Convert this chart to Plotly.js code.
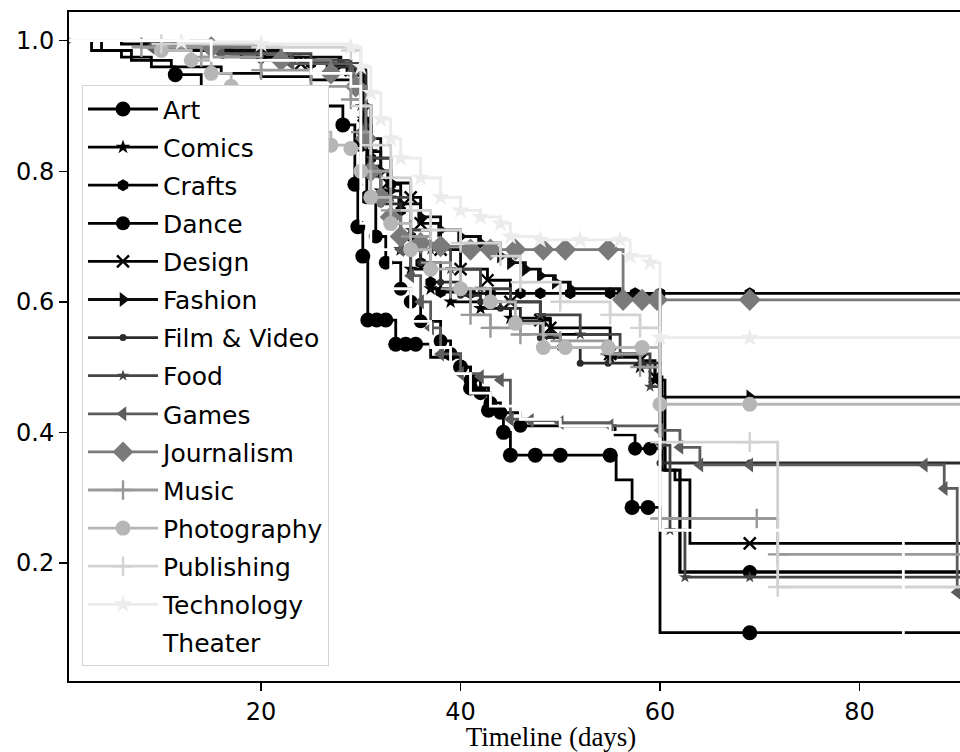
<!DOCTYPE html>
<html>
<head>
<meta charset="utf-8">
<script src="https://cdn.plot.ly/plotly-3.0.1.min.js"></script>
<style>html,body{margin:0;padding:0;background:#fff;overflow:hidden;width:960px;height:752px}</style>
</head>
<body>
<div id="chart" style="width:1040px;height:752px"></div>
<script>
// ---- data ----
const categories = ["Art","Comics","Crafts","Dance","Design","Fashion","Film & Video","Food","Games","Journalism","Music","Photography","Publishing","Technology","Theater"];

const days_Art  = [0,4,6,9,11.4,14,17,22,25,28.2,29.4,29.7,30.2,30.7,31.6,32.5,33.5,34.5,35.5,37,40,41,42.8,44.3,45,47.5,50,55,55.6,57.2,58.8,60,69,100];
const surv_Art  = [1,0.985,0.975,0.96,0.948,0.93,0.92,0.918,0.9,0.871,0.78,0.715,0.67,0.572,0.572,0.572,0.535,0.535,0.535,0.515,0.5,0.468,0.434,0.40,0.365,0.365,0.365,0.365,0.327,0.285,0.285,0.093,0.093,0.093];
const marks_Art = [11.4,28.2,29.4,29.7,30.2,30.7,31.6,32.5,33.5,34.5,35.5,40,41,42.8,44.3,45,47.5,50,55,57.2,58.8,69];

const days_Comics = [0,10,16,22,27,29.8,30.3,31,32,33,34,35,37,39,42,45,49,55,58,59.5,60.5,62,69,100];
const surv_Comics = [1,0.99,0.98,0.97,0.962,0.955,0.88,0.83,0.77,0.72,0.68,0.65,0.62,0.6,0.59,0.575,0.55,0.515,0.5,0.48,0.342,0.186,0.186,0.186];
const marks_Comics = [22,27,29.8,30.3,31,32,33,34,35,37,39,42,45,49,55,58,59.5,69];

const days_Crafts = [0,10,17,20,22,23,25,27,29,30,30.5,31,33,34,35,36,37,38,41,43,46,48,51,55,57.5,60,69,100];
const surv_Crafts = [1,0.99,0.98,0.975,0.97,0.97,0.965,0.96,0.955,0.93,0.87,0.82,0.78,0.74,0.70,0.66,0.63,0.615,0.613,0.613,0.613,0.613,0.613,0.613,0.613,0.613,0.613,0.613];
const marks_Crafts = [20,22,23,25,27,29,30,30.5,31,33,34,35,36,37,38,41,43,46,48,51,55,57.5,60,69];

const days_Dance = [0,3,7,11,16,20,25,29.3,30,30.6,31.5,32.5,34,35,36,38,39,40,41,42,43,44,46,50,55.5,57.5,59,60.5,62,69,100];
const surv_Dance = [1,0.985,0.97,0.96,0.95,0.945,0.94,0.93,0.84,0.76,0.70,0.66,0.62,0.60,0.57,0.54,0.52,0.50,0.48,0.46,0.445,0.43,0.41,0.41,0.396,0.375,0.375,0.342,0.186,0.186,0.186];
const marks_Dance = [30,30.6,31.5,32.5,34,35,36,38,39,40,41,42,43,44,46,57.5,59,69];

const days_Design = [0,6,12,18,24,29,30.3,31,32.7,35,36,38,40,42.7,45,48,49,55,58,59.5,60.2,61.5,63,69,100];
const surv_Design = [1,0.995,0.985,0.975,0.965,0.955,0.87,0.80,0.782,0.76,0.72,0.68,0.65,0.633,0.60,0.572,0.56,0.52,0.51,0.485,0.342,0.327,0.23,0.23,0.23];
const marks_Design = [24,29,30.3,31,32.7,35,36,38,40,42.7,45,48,49,55,58,59.5,69];

const days_Fashion = [0,8,15,22,28,30,30.5,31,32,33,34,36,38,40,42,44,45,46.5,48,49.5,51,56,60,69,100];
const surv_Fashion = [1,0.995,0.985,0.975,0.965,0.955,0.90,0.85,0.80,0.77,0.75,0.73,0.71,0.70,0.69,0.67,0.66,0.65,0.64,0.63,0.62,0.61,0.454,0.454,0.454];
const marks_Fashion = [22,28,30,30.5,31,32,33,34,36,38,40,42,44,45,46.5,48,49.5,51,56,69];

const days_Film = [0,10,20,27,29.5,30.5,31,32,34,36,38,40,42,44,46,48,50,52,54.8,58.2,60,69,100];
const surv_Film = [1,0.99,0.97,0.96,0.95,0.87,0.80,0.75,0.70,0.66,0.63,0.61,0.60,0.59,0.57,0.545,0.53,0.506,0.506,0.506,0.353,0.353,0.353];

const days_Food = [0,10,20,25,29,30,31,33,35,37,39,42,45,48,52,56,59,60,61,62.5,69,100];
const surv_Food = [1,0.995,0.98,0.97,0.96,0.90,0.82,0.76,0.71,0.68,0.65,0.62,0.60,0.58,0.55,0.52,0.47,0.38,0.25,0.178,0.178,0.178];

const days_Games = [0,9,16,23,29,30,31,32,33,34,35,36,37,38,40,42,44,45,47,50,55,60,62,64,69,86.5,88.5,89.8,100];
const surv_Games = [1,0.99,0.98,0.965,0.95,0.86,0.80,0.76,0.72,0.68,0.64,0.60,0.56,0.52,0.49,0.485,0.48,0.42,0.418,0.415,0.41,0.403,0.377,0.35,0.35,0.35,0.314,0.155,0.155];

const days_Journalism = [0,15,22,27,29.5,30.5,31,32,33,34,36,38,41,43,45.5,48.3,50.5,54.8,56.3,58.2,59.7,69,100];
const surv_Journalism = [1,0.99,0.97,0.95,0.93,0.85,0.80,0.76,0.73,0.70,0.69,0.685,0.68,0.68,0.68,0.68,0.68,0.68,0.603,0.603,0.603,0.603,0.603];

const days_Music = [0,8,14,20,25,29,30,31,33,35,37,39,41,43,46,50,55,58,60,69.7,71.8,100];
const surv_Music = [1,0.99,0.975,0.955,0.93,0.91,0.86,0.80,0.74,0.70,0.66,0.62,0.58,0.56,0.55,0.54,0.52,0.50,0.268,0.268,0.213,0.213];

const days_Photography = [0,10,13,15,17,19,21,23,25,27,29,30,31,33,35,37,40,43,45.5,48.3,50.5,54.8,58.2,60,69,100];
const surv_Photography = [1,0.985,0.97,0.95,0.93,0.91,0.89,0.88,0.86,0.84,0.835,0.80,0.76,0.72,0.68,0.65,0.62,0.60,0.567,0.53,0.53,0.53,0.53,0.443,0.443,0.443];

const days_Publishing = [0,10,20,29,30,31,33,35,37,40,44,46,50,55,58,60,69,71.8,100];
const surv_Publishing = [1,0.995,0.99,0.985,0.90,0.84,0.79,0.74,0.71,0.69,0.67,0.63,0.60,0.58,0.56,0.385,0.385,0.163,0.163];

const days_Technology = [0,12,20,29,30,31,32,33,34,36,38,40,42,44,45,48,52,56,57,59,60,69,100];
const surv_Technology = [1,0.998,0.995,0.99,0.96,0.92,0.88,0.85,0.82,0.79,0.76,0.74,0.73,0.72,0.70,0.695,0.695,0.695,0.67,0.66,0.545,0.545,0.545];

const days_Theater = [0,15,25,29,30,31,33,35,37,39,41,43,46,50,55,59,60,84.3,84.4,100];
const surv_Theater = [1,0.97,0.95,0.93,0.72,0.68,0.62,0.57,0.53,0.49,0.46,0.44,0.42,0.41,0.40,0.39,0.25,0.25,0.066,0.066];

const xTicks = [20,40,60,80];
const yTicks = [0.2,0.4,0.6,0.8,1.0];

// ---- styles ----
const styles = [
  {x:days_Art, y:surv_Art, marks:marks_Art, color:"#000000", symbol:"circle", size:15},
  {x:days_Comics, y:surv_Comics, marks:marks_Comics, color:"#000000", symbol:"star", size:11},
  {x:days_Crafts, y:surv_Crafts, marks:marks_Crafts, color:"#000000", symbol:"hexagon", size:12},
  {x:days_Dance, y:surv_Dance, marks:marks_Dance, color:"#000000", symbol:"circle", size:14},
  {x:days_Design, y:surv_Design, marks:marks_Design, color:"#000000", symbol:"x-thin-open", size:12},
  {x:days_Fashion, y:surv_Fashion, marks:marks_Fashion, color:"#0a0a0a", symbol:"triangle-right", size:13},
  {x:days_Film, y:surv_Film, marks:null, color:"#2c2c2c", symbol:"circle", size:7},
  {x:days_Food, y:surv_Food, marks:null, color:"#444444", symbol:"star", size:9},
  {x:days_Games, y:surv_Games, marks:null, color:"#5c5c5c", symbol:"triangle-left", size:13},
  {x:days_Journalism, y:surv_Journalism, marks:null, color:"#7a7a7a", symbol:"diamond", size:17},
  {x:days_Music, y:surv_Music, marks:null, color:"#999999", symbol:"cross-thin-open", size:14},
  {x:days_Photography, y:surv_Photography, marks:null, color:"#b6b6b6", symbol:"circle", size:15},
  {x:days_Publishing, y:surv_Publishing, marks:null, color:"#d2d2d2", symbol:"cross-thin-open", size:14},
  {x:days_Technology, y:surv_Technology, marks:null, color:"#ececec", symbol:"star", size:14},
  {x:days_Theater, y:surv_Theater, marks:[], color:"#ffffff", symbol:"circle", size:0}
];

const traces = [];
categories.forEach((name, i) => {
  const s = styles[i];
  const thin = s.symbol.indexOf("thin") >= 0;
  const sizes = s.x.map(d => (s.marks === null || s.marks.indexOf(d) >= 0) ? s.size : 0);
  traces.push({
    type: "scatter",
    mode: s.size > 0 ? "lines+markers" : "lines",
    name: name, legendgroup: "g" + i, showlegend: false,
    x: s.x, y: s.y,
    line: {shape: "hv", color: s.color, width: 2.8},
    marker: {symbol: s.symbol, size: sizes, color: s.color, opacity: 1,
             line: {color: s.color, width: thin ? 2.4 : 0}},
    cliponaxis: true
  });
  // legend entry
  traces.push({
    type: "scatter",
    mode: s.size > 0 ? "lines+markers" : "lines",
    name: name, legendgroup: "g" + i, showlegend: true,
    x: [null], y: [null],
    line: {color: s.color, width: 2.8},
    marker: {symbol: s.symbol, size: Math.max(s.size, 1), color: s.color, opacity: 1,
             line: {color: s.color, width: thin ? 2.4 : 0}}
  });
});

const layout = {
  width: 1040, height: 752,
  margin: {l: 69, r: 7, t: 12, b: 71},
  paper_bgcolor: "#ffffff", plot_bgcolor: "#ffffff",
  font: {family: "DejaVu Sans", size: 25, color: "#000"},
  showlegend: true,
  legend: {
    x: 0.0135, y: 0.8905, xanchor: "left", yanchor: "top",
    bgcolor: "#ffffff", bordercolor: "#d4d4d4", borderwidth: 1,
    font: {family: "DejaVu Sans", size: 25, color: "#000"},
    tracegroupgap: 2.6, itemwidth: 70
  },
  xaxis: {
    range: [0.74, 97.4], tickvals: xTicks, ticktext: xTicks.map(String),
    showgrid: false, zeroline: false,
    showline: true, mirror: true, linecolor: "#000", linewidth: 2,
    ticks: "outside", ticklen: 8, tickwidth: 1.5, tickcolor: "#000",
    ticklabelstandoff: 0,
    tickfont: {family: "DejaVu Sans", size: 24, color: "#000"},
    title: {text: "Timeline (days)", font: {family: "Liberation Serif", size: 27, color: "#000"}, standoff: 6}
  },
  yaxis: {
    range: [0.019, 1.044], tickvals: yTicks, ticktext: yTicks.map(v => v.toFixed(1)),
    showgrid: false, zeroline: false,
    showline: true, mirror: true, linecolor: "#000", linewidth: 2,
    ticks: "outside", ticklen: 8, tickwidth: 1.5, tickcolor: "#000",
    tickfont: {family: "DejaVu Sans", size: 24, color: "#000"}
  }
};

Plotly.newPlot("chart", traces, layout, {displayModeBar: false, staticPlot: true});
</script>
</body>
</html>
